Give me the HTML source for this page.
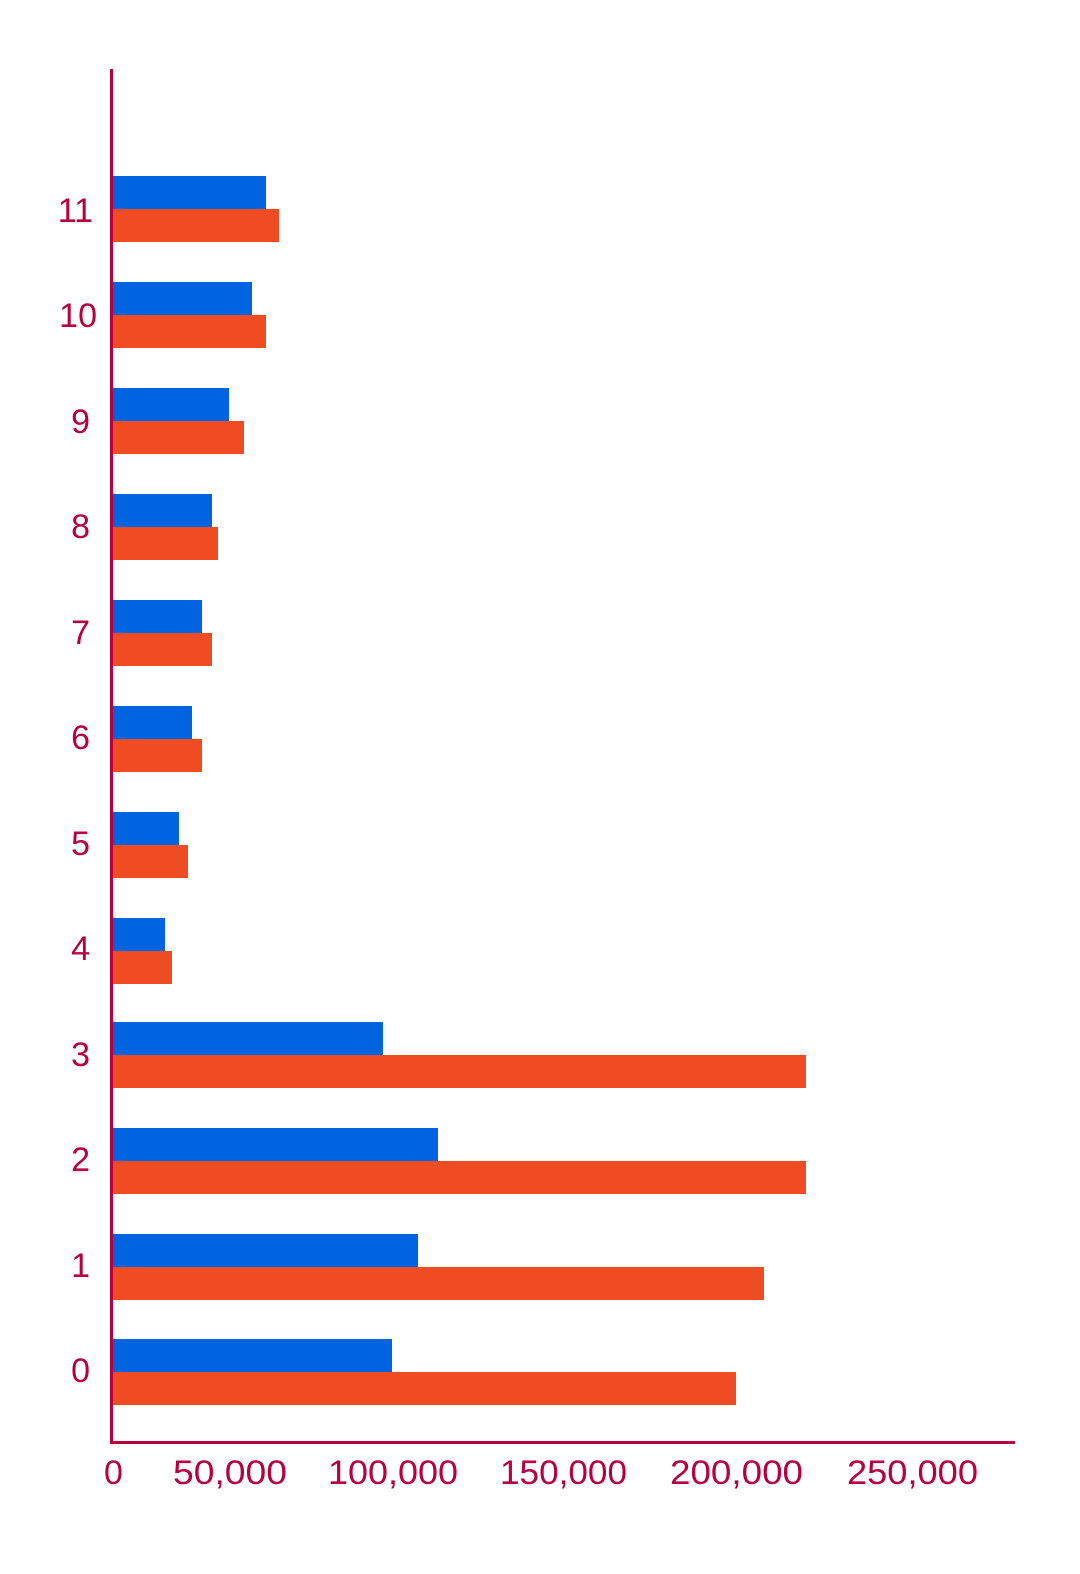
<!DOCTYPE html>
<html><head><meta charset="utf-8"><style>html,body{margin:0;padding:0;background:#fff}svg{display:block}</style></head>
<body>
<svg width="1080" height="1574" viewBox="0 0 1080 1574" xmlns="http://www.w3.org/2000/svg">
<g fill="#0064e1">
<rect x="113" y="176" width="153" height="33"/>
<rect x="113" y="282" width="139" height="33"/>
<rect x="113" y="388" width="116" height="33"/>
<rect x="113" y="494" width="99" height="33"/>
<rect x="113" y="600" width="89" height="33"/>
<rect x="113" y="706" width="79" height="33"/>
<rect x="113" y="812" width="66" height="33"/>
<rect x="113" y="918" width="52" height="33"/>
<rect x="113" y="1022" width="270" height="33"/>
<rect x="113" y="1128" width="325" height="33"/>
<rect x="113" y="1234" width="305" height="33"/>
<rect x="113" y="1339" width="279" height="33"/>
</g>
<g fill="#f04c23">
<rect x="113" y="209" width="166" height="33"/>
<rect x="113" y="315" width="153" height="33"/>
<rect x="113" y="421" width="131" height="33"/>
<rect x="113" y="527" width="105" height="33"/>
<rect x="113" y="633" width="99" height="33"/>
<rect x="113" y="739" width="89" height="33"/>
<rect x="113" y="845" width="75" height="33"/>
<rect x="113" y="951" width="59" height="33"/>
<rect x="113" y="1055" width="693" height="33"/>
<rect x="113" y="1161" width="693" height="33"/>
<rect x="113" y="1267" width="651" height="33"/>
<rect x="113" y="1372" width="623" height="33"/>
</g>
<g fill="#b8003c">
<rect x="110" y="69" width="3" height="1375"/>
<rect x="110" y="1441" width="905" height="3"/>
</g>
<g fill="#b8003c" font-family="Liberation Sans, sans-serif" font-size="34" text-anchor="end">
<text x="93" y="222">11</text>
<text x="97" y="327">10</text>
<text x="90" y="433">9</text>
<text x="90" y="538">8</text>
<text x="90" y="644">7</text>
<text x="90" y="749">6</text>
<text x="90" y="855">5</text>
<text x="90" y="960">4</text>
<text x="90" y="1066">3</text>
<text x="90" y="1171">2</text>
<text x="90" y="1277">1</text>
<text x="90" y="1382">0</text>
</g>
<g fill="#b8003c" font-family="Liberation Sans, sans-serif" font-size="34">
<text x="104" y="1484">0</text>
<text x="173" y="1484" textLength="114" lengthAdjust="spacingAndGlyphs">50,000</text>
<text x="328" y="1484" textLength="130" lengthAdjust="spacingAndGlyphs">100,000</text>
<text x="500" y="1484" textLength="127" lengthAdjust="spacingAndGlyphs">150,000</text>
<text x="670" y="1484" textLength="133" lengthAdjust="spacingAndGlyphs">200,000</text>
<text x="847" y="1484" textLength="131" lengthAdjust="spacingAndGlyphs">250,000</text>
</g>
</svg>
</body></html>
